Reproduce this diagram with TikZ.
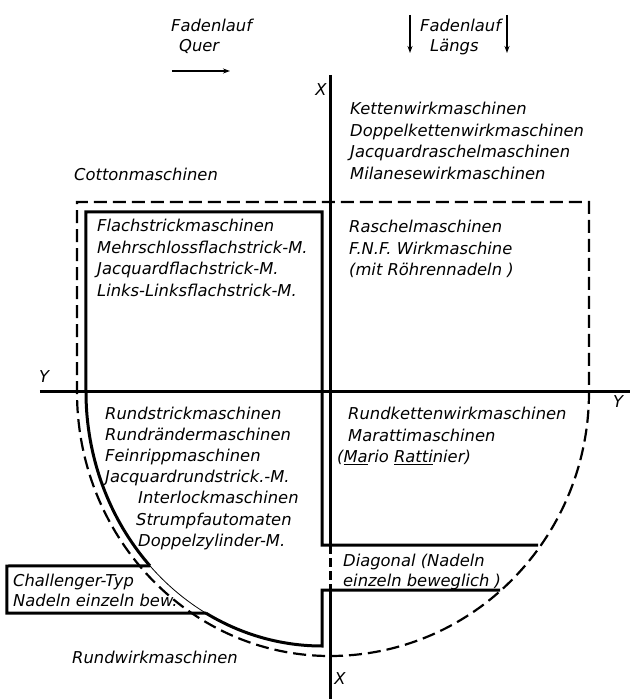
\documentclass[tikz,border=0pt]{standalone}
\usepackage{fontspec}
\setmainfont{DejaVu Sans}
\usetikzlibrary{arrows.meta}

\begin{document}
\begin{tikzpicture}[x=1bp, y=1bp,
  axis/.style={line width=3bp},
  frame/.style={line width=3bp, line join=miter},
  dashframe/.style={line width=2.2bp, dash pattern=on 13bp off 6bp},
  label/.style={font=\fontsize{16.4}{22}\selectfont\itshape, inner sep=0pt,
    anchor=north west, align=left},
  axislabel/.style={font=\fontsize{16.4}{22}\selectfont\itshape, inner sep=0pt},
  arrow/.style={-{Stealth[length=7bp, width=5bp]}, line width=1.8bp}
]
  \useasboundingbox (-330,-307) rectangle (300,392);

  % Fadenlauf
  \node[label] (quer) at (-159,373.5) {Fadenlauf\\[-2bp]\hspace{8bp}Quer};
  \node[label] (laengs) at (90,373.5) {Fadenlauf\\[-2bp]\hspace{10bp}Längs};
  \coordinate (q1) at (-158,321); \coordinate (q2) at (-100,321);
  \coordinate (l1) at (80,377);   \coordinate (l2) at (80,339);
  \coordinate (r1) at (177,377);  \coordinate (r2) at (177,339);
  \draw[arrow] (q1) -- (q2);
  \draw[arrow] (l1) -- (l2);
  \draw[arrow] (r1) -- (r2);

  % Achsen
  \coordinate (xtop) at (0,317); \coordinate (xa) at (0,-153);
  \coordinate (xb) at (0,-198);  \coordinate (xbot) at (0,-307);
  \draw[axis] (xtop) -- (xa);
  \draw[axis, dash pattern=on 9bp off 4bp] (xa) -- (xb);
  \draw[axis] (xb) -- (xbot);
  \draw[axis] (-290,0) -- (300,0);
  \node[axislabel] (xo) at (-9,302) {X};
  \node[axislabel] (xu) at (10,-287) {X};
  \node[axislabel] (yl) at (-286,15) {Y};
  \node[axislabel] (yr) at (288,-10) {Y};

  % gestrichelte Umrandung
  \draw[dashframe] (0,-264) arc[start angle=270, end angle=360, x radius=259, y radius=264]
    -- (259,190) -- (-253,190) -- (-253,0)
    arc[start angle=180, end angle=270, x radius=253, y radius=264];

  % Rahmen
  \draw[frame] (208,-153) -- (-8,-153) -- (-8,180) -- (-244,180) -- (-244,0)
    arc[start angle=180, end angle=223.2, x radius=236, y radius=254] coordinate (c1);
  \draw[line width=0.8bp] (c1)
    arc[start angle=223.2, end angle=240.5, x radius=236, y radius=254] coordinate (c2);
  \draw[frame] (c2) arc[start angle=240.5, end angle=270, x radius=236, y radius=254]
    -- (-8,-198) -- (170,-198);
  \draw[frame] (c1) -- (-323,-174) -- (-323,-221) -- (c2);

  % Texte
  \node[label] (kette) at (20,290.5) {Kettenwirkmaschinen\\Doppelkettenwirkmaschinen\\Jacquardraschelmaschinen\\Milanesewirkmaschinen};
  \node[label] (cotton) at (-256,224.5) {Cottonmaschinen};
  \node[label] (flach) at (-233,173.5) {Flachstrickmaschinen\\Mehrschlossflachstrick-M.\\Jacquardflachstrick-M.\\Links-Linksflachstrick-M.};
  \node[label] (raschel) at (19,172.5) {Raschelmaschinen\\F.N.F. Wirkmaschine\\(mit Röhrennadeln )};
  \node[label, font=\fontsize{16.4}{21.3}\selectfont\itshape] (rund) at (-225,-14.5)
    {Rundstrickmaschinen\\Rundrändermaschinen\\Feinrippmaschinen\\Jacquardrundstrick.-M.\\
     \hspace{33bp}Interlockmaschinen\\\hspace{31bp}Strumpfautomaten\\\hspace{33bp}Doppelzylinder-M.};
  \node[label] (rundkette) at (7,-14.5) {\hspace{11bp}Rundkettenwirkmaschinen\\\hspace{11bp}Marattimaschinen\\(\underline{Ma}rio \underline{Ratti}nier)};
  \node[label] (diag) at (13,-161.5) {Diagonal (Nadeln\\[-2bp]einzeln beweglich )};
  \node[label] (chall) at (-317,-181.5) {Challenger-Typ\\[-2bp]Nadeln einzeln bew.};
  \node[label] (rundwirk) at (-258,-258.5) {Rundwirkmaschinen};
\end{tikzpicture}
\end{document}
